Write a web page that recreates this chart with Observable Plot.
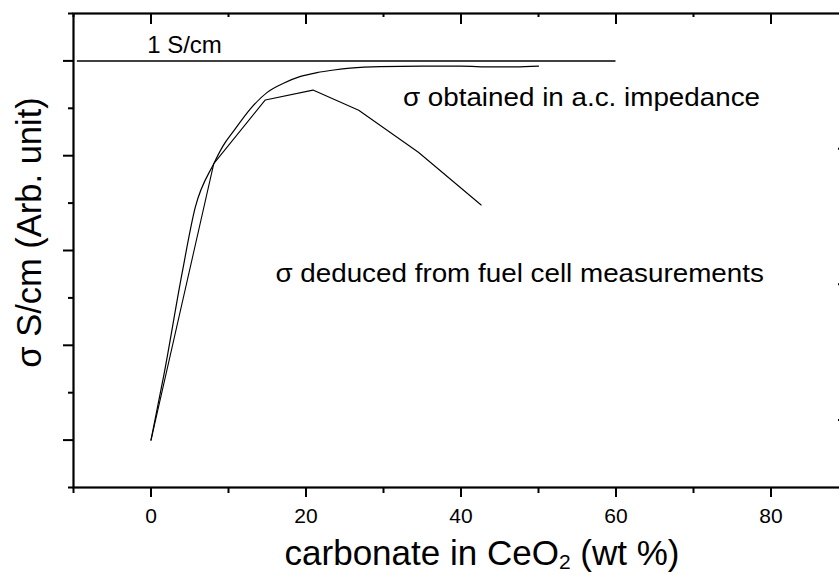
<!DOCTYPE html>
<html>
<head>
<meta charset="utf-8">
<script src="https://cdn.jsdelivr.net/npm/d3@7"></script>
<script src="https://cdn.jsdelivr.net/npm/@observablehq/plot@0.6"></script>
<style>
  html, body { margin: 0; padding: 0; background: #fff; overflow: hidden; }
  #chart { width: 839px; height: 575px; overflow: hidden; color: #000; }
  #chart svg { max-width: none !important; }
</style>
</head>
<body>
<div id="chart"></div>
<script>
// Conductivity from a.c. impedance (arbitrary units, 1 = 1 S/cm)
const impedanceX = [0, 1.7, 4.0, 5.7, 8.1, 9.3, 10.7, 12.8, 15.0, 17.1, 19.3, 21.4, 23.6, 25.7, 29.6, 35, 40, 44, 47, 50];
const impedanceY = [0, 0.176, 0.439, 0.613, 0.729, 0.776, 0.816, 0.873, 0.917, 0.941, 0.959, 0.969, 0.976, 0.981, 0.985, 0.986, 0.986, 0.984, 0.984, 0.986];

// Conductivity deduced from fuel cell measurements
const fuelCellX = [0, 8.1, 14.75, 20.9, 26.8, 34.5, 42.6];
const fuelCellY = [0, 0.729, 0.897, 0.923, 0.870, 0.759, 0.620];

// 1 S/cm reference level
const referenceLevel = 1;
const referenceFrom = -9.5;
const referenceTo = 60;

// Axis ticks
const xMajorTicks = [0, 20, 40, 60, 80];
const xMinorTicks = [-10, 10, 30, 50, 70, 90];
const yMajorTicks = [0, 0.25, 0.5, 0.75, 1];
const yMinorTicks = [-0.125, 0.125, 0.375, 0.625, 0.875, 1.125];
const rightTicks = [0.053, 0.411, 0.768];

// Annotation texts and anchors (data coordinates)
const refLabel = ["1 S/cm"];
const refLabelX = [-0.5];
const refLabelY = [1.022];
const curveLabels = ["σ obtained in a.c. impedance", "σ deduced from fuel cell measurements"];
const curveLabelX = [32.5, 16.05];
const curveLabelY = [0.882, 0.4166];

const impedance = impedanceX.map((x, i) => ({x, y: impedanceY[i]}));
const fuelCell = fuelCellX.map((x, i) => ({x, y: fuelCellY[i]}));
const refLabels = refLabel.map((text, i) => ({text, x: refLabelX[i], y: refLabelY[i]}));
const seriesLabels = curveLabels.map((text, i) => ({text, x: curveLabelX[i], y: curveLabelY[i]}));

const W = 860, H = 575;
const mL = 73, mR = 12, mT = 13, mB = 88;
const innerW = W - mL - mR, innerH = H - mT - mB;

const chart = Plot.plot({
  width: W,
  height: H,
  marginLeft: mL,
  marginRight: mR,
  marginTop: mT,
  marginBottom: mB,
  style: {fontFamily: "'Liberation Sans', Arial, sans-serif", color: "#000", background: "#fff", overflow: "visible", maxWidth: "none"},
  x: {domain: [-10, 90]},
  y: {domain: [-0.125, 1.125]},
  marks: [
    // bottom axis: labelled majors, short minors
    Plot.axisX({ticks: xMajorTicks, tickSize: 10, tickPadding: 11, fontSize: 21, strokeWidth: 2, label: null}),
    Plot.axisX({ticks: xMinorTicks, tickSize: 6, tickFormat: () => "", strokeWidth: 2, label: null}),
    // left axis: unlabelled
    Plot.axisY({ticks: yMajorTicks, tickSize: 10, tickFormat: () => "", strokeWidth: 2, label: null}),
    Plot.axisY({ticks: yMinorTicks, tickSize: 5, tickFormat: () => "", strokeWidth: 2, label: null}),
    // top ticks pointing inward
    Plot.ruleX(xMajorTicks, {x: d => d, insetBottom: innerH - 11, strokeWidth: 2}),
    Plot.ruleX(xMinorTicks, {x: d => d, insetBottom: innerH - 4, strokeWidth: 2}),
    // right ticks pointing inward
    Plot.ruleY(rightTicks, {y: d => d, insetLeft: innerW - 10, strokeWidth: 2}),
    Plot.frame({strokeWidth: 2.2}),
    // 1 S/cm reference
    Plot.ruleY([referenceLevel], {x1: referenceFrom, x2: referenceTo, strokeWidth: 1.5}),
    Plot.line(impedance, {x: "x", y: "y", curve: "monotone-x", strokeWidth: 1.2}),
    Plot.line(fuelCell, {x: "x", y: "y", strokeWidth: 1.1}),
    Plot.text(refLabels, {x: "x", y: "y", text: "text", textAnchor: "start", lineAnchor: "bottom", fontSize: 24, fill: "#000"}),
    Plot.text(seriesLabels, {x: "x", y: "y", text: "text", textAnchor: "start", lineAnchor: "bottom", fontSize: 26, fill: "#000", className: "series-label"})
  ]
});

chart.style.maxWidth = "none";
document.getElementById("chart").appendChild(chart);

// the curve labels are set slightly wide
d3.select(chart).selectAll(".series-label text").each(function () {
  const t = this.getAttribute("transform") || "";
  this.setAttribute("transform", t + " scale(1.07,1)");
});

// Axis titles
const svg = d3.select(chart);
svg.append("text")
  .attr("transform", "translate(40.5,232.5) rotate(-90)")
  .attr("text-anchor", "middle")
  .attr("font-size", 34.5)
  .attr("fill", "#000")
  .text("σ S/cm (Arb. unit)");

const xt = svg.append("text")
  .attr("x", 482)
  .attr("y", 565)
  .attr("text-anchor", "middle")
  .attr("font-size", 35)
  .attr("fill", "#000");
xt.append("tspan").text("carbonate in CeO");
xt.append("tspan").attr("font-size", 21).attr("dy", 4).text("2");
xt.append("tspan").attr("dy", -4).text(" (wt %)");
</script>
</body>
</html>
